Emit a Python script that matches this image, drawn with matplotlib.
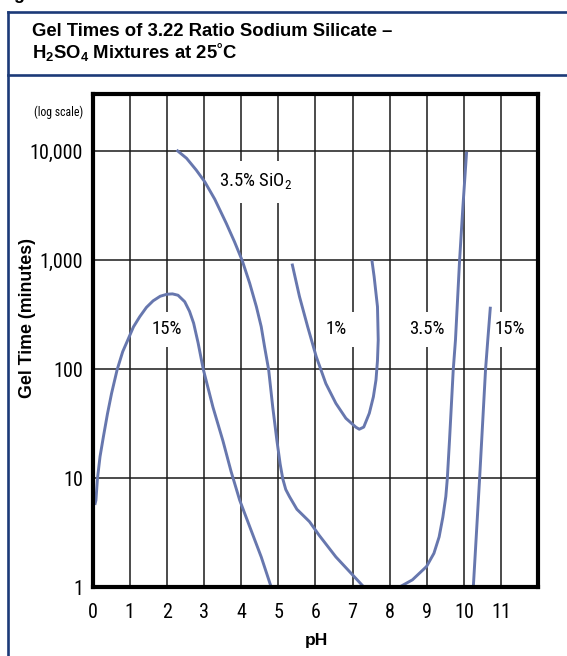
import numpy as np
import matplotlib
matplotlib.use("Agg")
import matplotlib.pyplot as plt
from matplotlib import font_manager as fm
from matplotlib.lines import Line2D

# ---------------- data ----------------
ph_15_left = [0.06, 0.09, 0.13, 0.20, 0.29, 0.40, 0.51, 0.66, 0.81, 0.96, 1.10, 1.27, 1.45, 1.63, 1.82,
              2.00, 2.15, 2.30, 2.48, 2.61, 2.72, 2.84, 2.98, 3.24, 3.51, 3.73, 3.96, 4.23, 4.54, 4.81]
gt_15_left = [5.7, 6.3, 9.9, 15.8, 24, 39, 60, 99, 145, 190, 245, 304, 370, 425, 468,
              488, 492, 478, 417, 340, 265, 175, 100, 45, 22, 11.5, 6.3, 3.6, 1.9, 1.0]

ph_35_left = [2.26, 2.53, 2.79, 3.02, 3.29, 3.60, 3.82, 4.03, 4.23, 4.41, 4.54, 4.63, 4.74, 4.85, 4.96,
              5.05, 5.12, 5.20, 5.30, 5.50, 5.84, 6.10, 6.55, 7.00, 7.31]
gt_35_left = [10280, 8630, 6730, 5250, 3630, 2180, 1480, 991, 615, 375, 246, 161, 99, 45, 22.5,
              13.5, 9.9, 7.9, 6.8, 5.2, 4.0, 3.0, 1.9, 1.3, 1.0]

ph_35_right = [8.25, 8.61, 8.99, 9.19, 9.33, 9.43, 9.51, 9.55, 9.61, 9.71, 9.77, 9.88, 9.97, 10.07]
gt_35_right = [1.0, 1.17, 1.55, 2.05, 2.9, 4.4, 6.8, 9.9, 22.5, 99, 186, 991, 3100, 9910]

ph_1 = [5.37, 5.57, 5.79, 6.02, 6.28, 6.55, 6.82, 7.09, 7.18, 7.30, 7.45, 7.56, 7.63, 7.67, 7.69,
        7.68, 7.67, 7.58, 7.52]
gt_1 = [933, 465, 246, 131, 74, 48.7, 35.5, 29.4, 28.2, 29.5, 39.5, 56, 80, 120, 186,
        270, 375, 708, 1000]

ph_15_right = [10.25, 10.42, 10.58, 10.64, 10.71]
gt_15_right = [1.0, 10, 100, 186, 375]

x_ticks = list(range(0, 12))
y_ticks = [1, 10, 100, 1000, 10000]
y_tick_labels = ["1", "10", "100", "1,000", "10,000"]

curve_labels = [
    ("3.5% SiO$_2$", 4.38, 5250),
    ("15%", 2.0, 233),
    ("1%", 6.55, 233),
    ("3.5%", 9.0, 233),
    ("15%", 11.24, 233),
]

title_line1 = "Gel Times of 3.22 Ratio Sodium Silicate \u2013"
title_line2 = "$\\mathbf{H_2SO_4}$ Mixtures at 25\u02daC"

# ---------------- fonts ----------------
names = {f.name for f in fm.fontManager.ttflist}
narrow = next((n for n in ["Liberation Sans Narrow", "DejaVu Sans Condensed", "Roboto Condensed"] if n in names),
              "Liberation Sans")
plt.rcParams["font.family"] = ["Liberation Sans", "DejaVu Sans"]
plt.rcParams["mathtext.fontset"] = "custom"
plt.rcParams["mathtext.rm"] = narrow
plt.rcParams["mathtext.bf"] = "Liberation Sans:bold"

W, H = 567, 656
fig = plt.figure(figsize=(W / 100, H / 100), dpi=100)

def fx(px):
    return px / W

def fy(py):
    return 1 - py / H

x0, x1 = 92.6, 538.3
ytop, ybot = 94.0, 587.3
ax = fig.add_axes([fx(x0), fy(ybot), fx(x1) - fx(x0), fy(ytop) - fy(ybot)])
ax.set_yscale("log")
ax.set_xlim(0, 12)
ax.set_ylim(1, 10 ** ((ybot - ytop) / 109.0))

curve_color = "#6777ae"
lw = 2.1
for xs, ys in [(ph_15_left, gt_15_left), (ph_35_left, gt_35_left), (ph_35_right, gt_35_right),
               (ph_1, gt_1), (ph_15_right, gt_15_right)]:
    ax.plot(xs, ys, color=curve_color, lw=lw, solid_capstyle="butt", solid_joinstyle="round", zorder=4)

grid_c = "#1a1a1a"
for xv in x_ticks[1:]:
    ax.axvline(xv, color=grid_c, lw=1.1, zorder=1)
for yv in y_ticks[1:]:
    ax.axhline(yv, color=grid_c, lw=1.1, zorder=1)

for txt, xv, yv in curve_labels:
    pad = 8 if "SiO" in txt else 6
    ax.text(xv, yv, txt, ha="center", va="center", fontsize=13.5, family=narrow, zorder=3,
            bbox=dict(facecolor="white", edgecolor="none", pad=pad))

ax.set_xticks(x_ticks)
ax.set_xticklabels([str(v) for v in x_ticks])
ax.set_yticks(y_ticks)
ax.set_yticklabels(y_tick_labels)
ax.minorticks_off()
ax.tick_params(length=0, labelsize=14.5)
ax.tick_params(axis="y", pad=7)
ax.tick_params(axis="x", pad=11)
for lab in ax.get_xticklabels() + ax.get_yticklabels():
    lab.set_family(narrow)
for s in ax.spines.values():
    s.set_linewidth(3.0)
    s.set_color("black")
    s.set_zorder(5)

ax.text(-0.02, 1.0 - (112.7 - ytop) / (ybot - ytop), "(log scale)", transform=ax.transAxes,
        ha="right", va="center", fontsize=8.5, family=narrow)

fig.text(fx(28), fy(318), "Gel Time (minutes)", rotation=90, ha="center", va="center",
         fontsize=12.8, fontweight="bold")
fig.text(fx(316), fy(640), "pH", ha="center", va="center", fontsize=12.5, fontweight="bold")

fig.text(fx(32), fy(36), title_line1, ha="left", va="baseline", fontsize=13.3, fontweight="bold")
fig.text(fx(32), fy(58), title_line2, ha="left", va="baseline", fontsize=13.3, fontweight="bold")
fig.text(fx(-1), fy(-1), "Figure", ha="left", va="baseline", fontsize=13, fontweight="bold")

navy = "#1c3a78"
blw = 1.9
fig.add_artist(Line2D([fx(8), fx(8)], [fy(11.5), 0], color=navy, lw=blw))
fig.add_artist(Line2D([fx(8), 1], [fy(11.5), fy(11.5)], color=navy, lw=blw))
fig.add_artist(Line2D([fx(8), 1], [fy(74.5), fy(74.5)], color=navy, lw=blw))

fig.savefig("out.png", dpi=100)
